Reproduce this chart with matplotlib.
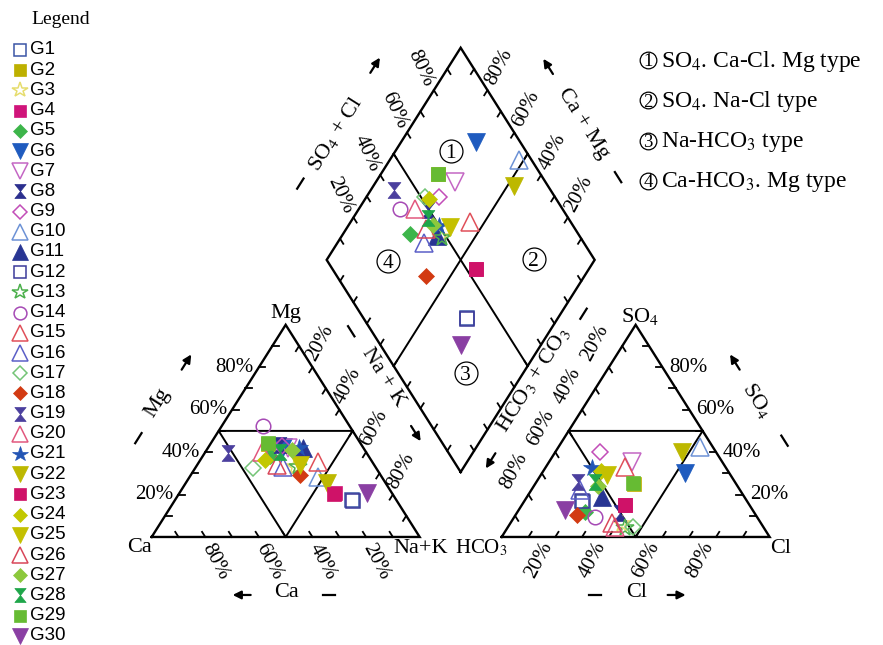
import numpy as np
import matplotlib
matplotlib.use('Agg')
import matplotlib.pyplot as plt
from matplotlib.path import Path

plt.rcParams['font.family'] = 'Liberation Serif'
plt.rcParams['mathtext.fontset'] = 'stix'

# sample chemistry in % meq/L: Na+K = 100 - Ca - Mg, HCO3+CO3 = 100 - SO4 - Cl
samples = ['G%d' % i for i in range(1, 31)]
ca = [16.7, 34.5, 30.0, 21.5, 37.0, 29.7, 28.3, 30.4, 30.0, 23.6,
      22.5, 16.5, 29.0, 32.1, 20.0, 34.5, 45.9, 30.1, 51.6, 38.9,
      24.0, 22.1, 21.7, 39.6, 27.7, 36.4, 27.3, 32.0, 34.4, 9.5]
mg = [17.4, 44.0, 33.0, 20.5, 38.0, 42.5, 42.0, 43.4, 43.0, 28.4,
      41.8, 17.0, 33.0, 52.5, 35.5, 33.0, 32.4, 29.2, 39.5, 40.2,
      42.0, 25.3, 20.3, 36.3, 33.9, 33.9, 41.0, 40.0, 44.1, 20.6]
so4 = [16.6, 25.0, 6.0, 15.0, 12.0, 30.3, 35.5, 11.2, 40.2, 42.6,
       19.0, 17.0, 4.2, 9.6, 33.1, 22.2, 4.9, 10.4, 26.1, 4.9,
       32.4, 40.2, 15.1, 31.0, 29.2, 6.5, 24.0, 26.0, 25.3, 12.7]
cl = [22.1, 36.8, 42.0, 38.5, 25.0, 53.3, 30.8, 38.5, 16.6, 52.7,
      27.8, 21.5, 43.9, 30.0, 29.5, 18.1, 46.6, 22.8, 15.6, 39.9,
      17.4, 47.1, 38.5, 21.6, 24.6, 37.8, 24.0, 21.7, 36.5, 17.3]

ticks_pct = [20, 40, 60, 80]
water_types = ['SO$_\\mathrm{4}$. Ca-Cl. Mg type', 'SO$_\\mathrm{4}$. Na-Cl type',
               'Na-HCO$_\\mathrm{3}$ type', 'Ca-HCO$_\\mathrm{3}$. Mg type']

# marker style per sample
shapes = ['s', 's', '*', 's', 'D', 'v', 'v', 'hg', 'D', '^',
          '^', 's', '*', 'o', '^', '^', 'D', 'D', 'hg', '^',
          '*', 'v', 's', 'D', 'v', '^', 'D', 'hg', 's', 'v']
hollow = [True, False, True, False, False, False, True, False, True, True,
          False, True, True, True, True, True, True, False, False, True,
          False, False, False, False, False, True, False, False, False, False]
colors = ['#3B55A6', '#BDB000', '#E6DD6E', '#D0147A', '#3DB54A',
          '#1F5BBF', '#C467C4', '#2B2F8E', '#C24DB8', '#6D92D6',
          '#283593', '#3C3A9A', '#4CB04C', '#A64AB5', '#E0505A',
          '#5B5FC7', '#74C476', '#D23A12', '#4B3F9E', '#E2587E',
          '#2355B5', '#BDB800', '#CF1268', '#C2C800', '#C4C000',
          '#D9475A', '#8CC83C', '#1FA64A', '#66BB33', '#8A3FA3']

hg = Path([(-0.8, 1), (0.8, 1), (0, 0), (-0.8, 1),
           (-0.8, -1), (0.8, -1), (0, 0), (-0.8, -1)],
          [Path.MOVETO, Path.LINETO, Path.LINETO, Path.CLOSEPOLY] * 2)
marker_of = {'s': 's', 'D': 'D', 'v': 'v', '^': '^', '*': '*', 'o': 'o', 'hg': hg}
size_of = {'s': 10.5, 'D': 8.6, 'v': 13, '^': 13, '*': 13, 'o': 10.5, 'hg': 11.5}

H = np.sqrt(3) / 2
GAP = 30.6

fig = plt.figure(figsize=(8.83, 6.45), dpi=100)
ax = fig.add_axes([0, 0, 1, 1])
ax.set_xlim(-56.6, 272.9)
ax.set_ylim(-44.1, 219.2)
ax.axis('off')


def to_px(p):
    return ax.transData.transform(np.asarray(p, float))


def from_px(q):
    return ax.transData.inverted().transform(np.asarray(q, float))


def shift(p, dx, dy):
    q = to_px(p)
    return from_px((q[0] + dx, q[1] + dy))


def img_px(x, y):
    # pixel position measured from the top-left corner of the figure
    return from_px((x, 645 - y))


def cation_xy(c, m):
    nak = 100 - c - m
    return nak + m / 2, m * H


def anion_xy(s, c):
    return 100 + GAP + c + s / 2, s * H


def diamond_xy(c, m, s, k):
    a = s + k
    b = c + m
    return 100 + GAP / 2 + 0.5 * (a - b), GAP * H + H * (a + b)


CA, NAK, MG = np.array([0, 0]), np.array([100, 0]), np.array([50, 100 * H])
HCO, CL, SO = np.array([100 + GAP, 0]), np.array([200 + GAP, 0]), np.array([150 + GAP, 100 * H])
DB = np.array([100 + GAP / 2, GAP * H])
DL, DR, DT = DB + [-50, 100 * H], DB + [50, 100 * H], DB + [0, 200 * H]

lw = 1.7
for poly in ([CA, NAK, MG, CA], [HCO, CL, SO, HCO], [DB, DR, DT, DL, DB]):
    pts = np.array(poly)
    ax.plot(pts[:, 0], pts[:, 1], color='black', lw=lw, solid_joinstyle='miter')

# inner dividing lines
for a, b, c in ((CA, NAK, MG), (HCO, CL, SO)):
    m_left, m_right, m_base = (a + c) / 2, (b + c) / 2, (a + b) / 2
    pts = np.array([m_right, m_left, m_base, m_right])
    ax.plot(pts[:, 0], pts[:, 1], color='black', lw=1.4)
for p, q in (((DL + DT) / 2, (DB + DR) / 2), ((DR + DT) / 2, (DB + DL) / 2)):
    ax.plot([p[0], q[0]], [p[1], q[1]], color='black', lw=1.4)


def draw_ticks(p, q, d, length=2.4):
    d = np.asarray(d, float)
    d = d / np.hypot(*d) * length
    for t in np.arange(1, 10) / 10:
        e = p + t * (q - p)
        ax.plot([e[0], e[0] + d[0]], [e[1], e[1] + d[1]], color='black', lw=1.3)


draw_ticks(CA, NAK, MG - NAK)
draw_ticks(NAK, MG, CA - MG)
draw_ticks(MG, CA, NAK - CA)
draw_ticks(HCO, CL, SO - HCO)
draw_ticks(CL, SO, HCO - CL)
draw_ticks(SO, HCO, CL - SO)
draw_ticks(DL, DT, (0.5, -H))
draw_ticks(DR, DT, (-0.5, -H))
draw_ticks(DB, DL, (0.5, H))
draw_ticks(DB, DR, (-0.5, H))

# percentage labels along the edges
PFS = 15
pct = dict(fontsize=PFS, ha='center', va='center', rotation_mode='anchor')
for v in ticks_pct:
    s = '%d%%' % v
    ax.text(*shift((v / 2, v * H), -5, 0), s, fontsize=PFS, ha='right', va='center')
    ax.text(*shift((100 - v, 0), 10, -25), s, rotation=-62, **pct)
    ax.text(*shift((50 + v / 2, H * (100 - v)), 8, 24), s, rotation=62, **pct)
    ax.text(*shift((200 + GAP - v / 2, v * H), 7, 0), s, fontsize=PFS,
            ha='left', va='center')
    ax.text(*shift((100 + GAP + v, 0), -16, -23), s, rotation=62, **pct)
    ax.text(*shift((100 + GAP + (100 - v) / 2, H * (100 - v)), -14, 24), s, rotation=62, **pct)
    ax.text(*shift(DL + v / 100 * (DT - DL), -13, 22), s, rotation=-65, **pct)
    ax.text(*shift(DR + v / 100 * (DT - DR), 11.5, 23.5), s, rotation=62, **pct)

# corner names
corner = dict(fontsize=16, va='baseline')
ax.text(*shift(MG, 0, 7), 'Mg', ha='center', **corner)
ax.text(*shift(CA, 0, -15), 'Ca', ha='right', **corner)
ax.text(*shift(NAK, 1, -16), 'Na+K', ha='center', **corner)
ax.text(*shift(HCO, 6, -16), 'HCO$_\\mathrm{3}$', ha='right', fontsize=15, va='baseline')
ax.text(*shift(SO, 4, 3), 'SO$_\\mathrm{4}$', ha='center', **corner)
ax.text(*shift(CL, 0, -16), 'Cl', ha='left', **corner)


def disp_dir(d):
    v = to_px(d) - to_px((0, 0))
    return v / np.hypot(*v)


def axis_title(p, d, side, label, rot, title_at, dash_at, arrow_at, mark_dist):
    u = disp_dir(d)
    n = np.array([-u[1], u[0]]) if side == 'left' else np.array([u[1], -u[0]])
    q = to_px(p)
    ts, td = title_at
    ax.text(*from_px(q + u * ts + n * td), label, fontsize=16, rotation=rot,
            ha='center', va='center', rotation_mode='anchor')
    a, b = from_px(q + u * (dash_at - 6) + n * mark_dist), from_px(q + u * (dash_at + 6) + n * mark_dist)
    ax.plot([a[0], b[0]], [a[1], b[1]], color='black', lw=1.6)
    tail = from_px(q + u * (arrow_at - 9) + n * mark_dist)
    head = from_px(q + u * (arrow_at + 9) + n * mark_dist)
    ax.annotate('', xy=head, xytext=tail,
                arrowprops=dict(arrowstyle='-|>', color='black', lw=1.6,
                                mutation_scale=12, shrinkA=0, shrinkB=0))


axis_title((CA + MG) / 2, (0.5, H), 'left', 'Mg', 57.7, (-9, 66), -49, 41, 64)
axis_title((NAK + MG) / 2, (0.5, -H), 'left', 'Na + K', -57.7, (-29, 55), -85, 36, 52)
axis_title((CA + NAK) / 2, (-1, 0), 'left', 'Ca', 0, (-1, 56), -43, 44, 58)
axis_title((HCO + CL) / 2, (1, 0), 'right', 'Cl', 0, (1, 56), -41, 41, 58)
axis_title((CL + SO) / 2, (-0.5, H), 'right', 'SO$_\\mathrm{4}$', -57.7, (-3, 62), -52, 41, 64)
axis_title((SO + HCO) / 2, (-0.5, -H), 'right', 'HCO$_\\mathrm{3}$ + CO$_\\mathrm{3}$', 57.7,
           (-24, 57), -107, 67, 50)
axis_title((DL + DT) / 2, (0.5, H), 'left', 'SO$_\\mathrm{4}$ + Cl', 57.7, (-14, 60), -75, 65, 63)
axis_title((DR + DT) / 2, (-0.5, H), 'right', 'Ca + Mg', -57.7, (-4, 63), -68, 63, 64)


def circled(p, num, ms, fs):
    ax.plot(*p, marker='o', ms=ms, mfc='none', mec='black', mew=0.9)
    ax.text(*p, num, fontsize=fs, ha='center', va='center_baseline')


# water type regions in the diamond
centre = (DL + DR) / 2
for num, (dx, dy) in zip('1234', [(-10, 109), (73, 1), (5, -113), (-73, -1)]):
    circled(shift(centre, dx, dy), num, 16.5, 15.5)

for i, label in enumerate(water_types):
    y = 60 + i * 40.3
    circled(img_px(648, y), str(i + 1), 12, 13.5)
    ax.text(*img_px(661, y + 6.5), label, fontsize=17, ha='left', va='baseline')


def sample_style(i, scale=1.0):
    shp = shapes[i]
    style = dict(marker=marker_of[shp], ms=size_of[shp] * scale, ls='none')
    if hollow[i]:
        style.update(mfc='none', mec=colors[i], mew=1.1)
    else:
        style.update(mfc=colors[i], mec=colors[i], mew=0.5)
    return style


for i in range(len(samples)):
    st = sample_style(i)
    ax.plot(*cation_xy(ca[i], mg[i]), **st)
    ax.plot(*anion_xy(so4[i], cl[i]), **st)
    ax.plot(*diamond_xy(ca[i], mg[i], so4[i], cl[i]), **st)

# legend column
ax.text(*img_px(61, 20), 'Legend', fontsize=14, ha='center', va='center')
for i, name in enumerate(samples):
    y = 50 + i * 20.2
    ax.plot(*img_px(20, y), **sample_style(i, 0.88))
    ax.text(*img_px(30, y), name, fontsize=13.5, family='Liberation Sans',
            ha='left', va='center')

fig.savefig('out.png', dpi=100)
